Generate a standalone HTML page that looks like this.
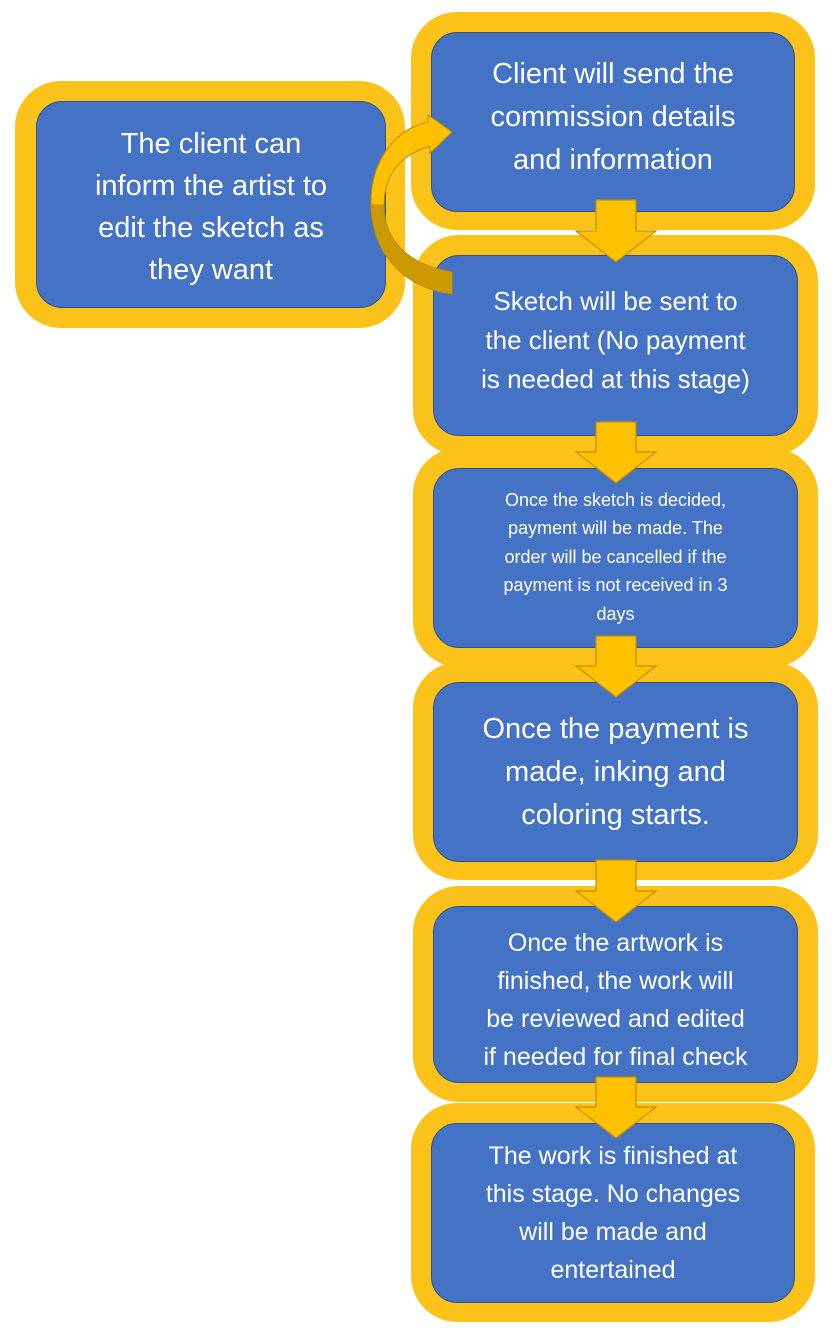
<!DOCTYPE html><html><head><style>
body{margin:0;width:839px;height:1330px;background:#fff;position:relative;overflow:hidden;font-family:"Liberation Sans",sans-serif}
.o{position:absolute;background:#fbc31a;border-radius:46px}
.i{position:absolute;background:#4472c4;border:1.5px solid #2f528f;border-radius:26px;box-sizing:border-box;color:#fff;display:flex;align-items:center;justify-content:center;text-align:center}
svg{position:absolute;left:0;top:0}
</style></head><body>
<div class="o" style="left:15px;top:81px;width:390px;height:247px"></div>
<div class="o" style="left:411px;top:12px;width:404px;height:218px"></div>
<div class="o" style="left:413px;top:235px;width:405px;height:220px"></div>
<div class="o" style="left:413px;top:448px;width:405px;height:219px"></div>
<div class="o" style="left:413px;top:662px;width:405px;height:218px"></div>
<div class="o" style="left:413px;top:886px;width:405px;height:216px"></div>
<div class="o" style="left:411px;top:1103px;width:404px;height:219px"></div>

<div class="i" style="left:36px;top:101px;width:350px;height:207px;font-size:29px;line-height:42px;padding-top:4px">The client can<br>inform the artist to<br>edit the sketch as<br>they want</div>
<div class="i" style="left:431px;top:32px;width:364px;height:180px;font-size:29px;line-height:43px;padding-bottom:10px">Client will send the<br>commission details<br>and information</div>
<div class="i" style="left:433px;top:255px;width:365px;height:181px;font-size:26px;line-height:39px;padding-bottom:10px">Sketch will be sent to<br>the client (No payment<br>is needed at this stage)</div>
<div class="i" style="left:433px;top:468px;width:365px;height:180px;font-size:18px;line-height:28.5px;padding-bottom:2px">Once the sketch is decided,<br>payment will be made. The<br>order will be cancelled if the<br>payment is not received in 3<br>days</div>
<div class="i" style="left:433px;top:682px;width:365px;height:180px;font-size:29px;line-height:43px">Once the payment is<br>made, inking and<br>coloring starts.</div>
<div class="i" style="left:433px;top:906px;width:365px;height:177px;font-size:25px;line-height:38px;padding-top:10px">Once the artwork is<br>finished, the work will<br>be reviewed and edited<br>if needed for final check</div>
<div class="i" style="left:431px;top:1123px;width:364px;height:180px;font-size:25px;line-height:38px">The work is finished at<br>this stage. No changes<br>will be made and<br>entertained</div>

<svg width="839" height="1330">
<g fill="#ffc000" stroke="#bf9000" stroke-width="1.2">
<polygon points="596,200 636,200 636,231 656,231 616,262 576,231 596,231"/>
<polygon points="596,422 636,422 636,452 656,452 616,483 576,452 596,452"/>
<polygon points="596,636 636,636 636,666 656,666 616,697 576,666 596,666"/>
<polygon points="596,860 636,860 636,891 656,891 616,922 576,891 596,891"/>
<polygon points="596,1077 636,1077 636,1107 656,1107 616,1138 576,1107 596,1107"/>
</g>
<path d="M452,272 C405,264 384,238 384,205 C384,175 400,155 430,146 L430,153 L452,132 L428,115 L428,122 C392,130 370,165 371,205 C372,255 405,288 452,294 Z" fill="#cc9a00" stroke="#bf9000" stroke-width="1"/>
<path d="M384,205 C384,175 400,155 430,146 L430,153 L452,132 L428,115 L428,122 C392,130 370,165 371,205 Z" fill="#ffc000" stroke="#bf9000" stroke-width="1"/>
</svg>
</body></html>
